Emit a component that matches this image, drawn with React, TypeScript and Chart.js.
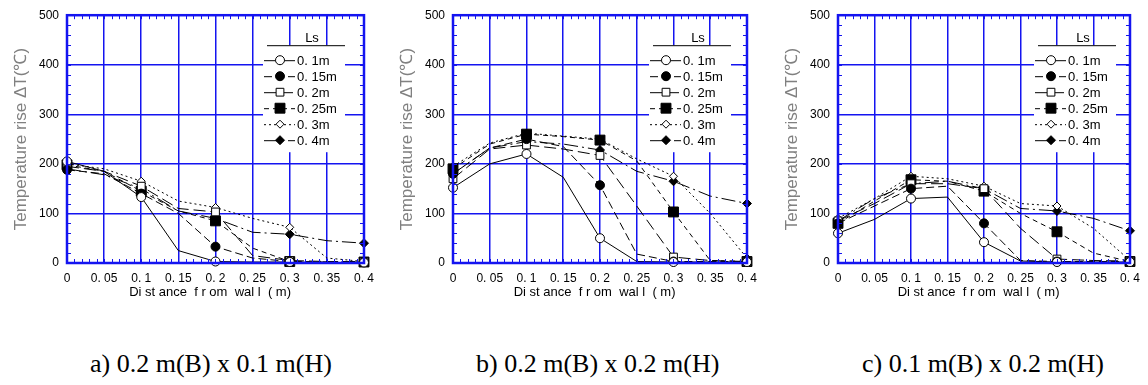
import React, { useEffect, useRef } from "react";
import { Chart, registerables } from "chart.js";

Chart.register(...registerables);

// ---------- data ----------
const xPositions = [0, 0.05, 0.1, 0.15, 0.2, 0.25, 0.3, 0.35, 0.4];
const markerX = [0, 0.1, 0.2, 0.3, 0.4];
const xTickLabels = ["0", "0. 05", "0. 1", "0. 15", "0. 2", "0. 25", "0. 3", "0. 35", "0. 4"];
const yTickValues = [0, 100, 200, 300, 400, 500];
const seriesLabels = ["0. 1m", "0. 15m", "0. 2m", "0. 25m", "0. 3m", "0. 4m"];
const legendTitle = "Ls";
const xTitle = "Di st ance  f r om  wal l  ( m)   ";
const yTitle = "Temperature rise ΔT(℃)";
const captions = ["a) 0.2 m(B) x 0.1 m(H)", "b) 0.2 m(B) x 0.2 m(H)", "c) 0.1 m(B) x 0.2 m(H)"];

// panel a) 0.2 m(B) x 0.1 m(H)
const panelA_L010 = [205, 185, 133, 25, 3, 2, 2, 1, 1];
const panelA_L015 = [188, 180, 140, 100, 33, 10, 3, 2, 2];
const panelA_L020 = [195, 185, 155, 110, 103, 15, 5, 3, 3];
const panelA_L025 = [198, 185, 145, 105, 85, 30, 3, 2, 2];
const panelA_L030 = [200, 190, 165, 125, 112, 90, 72, 10, 3];
const panelA_L040 = [190, 178, 150, 105, 90, 62, 58, 45, 40];

// panel b) 0.2 m(B) x 0.2 m(H)
const panelB_L010 = [152, 200, 220, 173, 50, 3, 2, 2, 2];
const panelB_L015 = [180, 232, 250, 235, 157, 18, 3, 3, 3];
const panelB_L020 = [170, 230, 238, 230, 217, 115, 12, 5, 3];
const panelB_L025 = [190, 240, 260, 255, 248, 206, 103, 5, 3];
const panelB_L030 = [195, 242, 262, 256, 250, 210, 175, 100, 10];
const panelB_L040 = [180, 232, 245, 240, 228, 185, 165, 135, 120];

// panel c) 0.1 m(B) x 0.2 m(H)
const panelC_L010 = [60, 88, 130, 133, 42, 4, 2, 2, 2];
const panelC_L015 = [80, 115, 150, 155, 80, 5, 3, 3, 3];
const panelC_L020 = [85, 120, 160, 160, 150, 70, 8, 5, 4];
const panelC_L025 = [80, 125, 168, 165, 145, 100, 63, 20, 3];
const panelC_L030 = [90, 130, 175, 170, 155, 120, 115, 70, 5];
const panelC_L040 = [85, 130, 160, 165, 150, 110, 105, 90, 65];

const panelA = [panelA_L010, panelA_L015, panelA_L020, panelA_L025, panelA_L030, panelA_L040];
const panelB = [panelB_L010, panelB_L015, panelB_L020, panelB_L025, panelB_L030, panelB_L040];
const panelC = [panelC_L010, panelC_L015, panelC_L020, panelC_L025, panelC_L030, panelC_L040];

// ---------- styles ----------
const BLUE = "#1414f0";
const SANS = "'Liberation Sans', Arial, sans-serif";
const SERIF = "'Liberation Serif', 'Times New Roman', serif";

type SeriesStyle = { dash: number[]; point: string; r: number; filled: boolean };
const seriesStyles: SeriesStyle[] = [
  { dash: [], point: "circle", r: 4.5, filled: false },
  { dash: [8, 4], point: "circle", r: 4.5, filled: true },
  { dash: [12, 5], point: "rect", r: 5.5, filled: false },
  { dash: [5, 4], point: "rect", r: 7, filled: true },
  { dash: [2, 3], point: "rectRot", r: 4, filled: false },
  { dash: [14, 4, 2, 4], point: "rectRot", r: 4.5, filled: true },
];

function drawMarker(ctx: CanvasRenderingContext2D, s: SeriesStyle, x: number, y: number) {
  ctx.save();
  ctx.setLineDash([]);
  ctx.lineWidth = 1;
  ctx.strokeStyle = "#000";
  ctx.fillStyle = s.filled ? "#000" : "#fff";
  ctx.beginPath();
  if (s.point === "circle") {
    ctx.arc(x, y, s.r, 0, Math.PI * 2);
  } else if (s.point === "rect") {
    const h = s.r * Math.SQRT1_2;
    ctx.rect(x - h, y - h, 2 * h, 2 * h);
  } else {
    ctx.moveTo(x - s.r, y);
    ctx.lineTo(x, y - s.r);
    ctx.lineTo(x + s.r, y);
    ctx.lineTo(x, y + s.r);
    ctx.closePath();
  }
  ctx.fill();
  ctx.stroke();
  ctx.restore();
}

const framePlugin = {
  id: "framePlugin",
  beforeDatasetsDraw(chart: any) {
    const { ctx, chartArea: a } = chart;
    ctx.save();
    ctx.fillStyle = "#fff";
    ctx.fillRect(a.left + 196, a.top + 30, 82, 107);
    ctx.restore();
  },
  afterDatasetsDraw(chart: any) {
    const { ctx, chartArea: a } = chart;
    ctx.save();
    ctx.strokeStyle = "#000";
    ctx.lineWidth = 1;
    ctx.beginPath();
    ctx.moveTo(a.left + 200, a.top + 30.5);
    ctx.lineTo(a.left + 278, a.top + 30.5);
    ctx.stroke();
    ctx.fillStyle = "#000";
    ctx.font = `13px ${SANS}`;
    ctx.textAlign = "center";
    ctx.textBaseline = "middle";
    ctx.fillText(legendTitle, a.left + 245, a.top + 23);
    ctx.textAlign = "left";
    seriesLabels.forEach((label, i) => {
      const y = a.top + 45 + i * 16;
      const s = seriesStyles[i];
      ctx.save();
      ctx.setLineDash(s.dash);
      ctx.strokeStyle = "#000";
      ctx.lineWidth = 1;
      ctx.beginPath();
      ctx.moveTo(a.left + 197, y + 0.5);
      ctx.lineTo(a.left + 228, y + 0.5);
      ctx.stroke();
      ctx.restore();
      drawMarker(ctx, s, a.left + 213, y);
      ctx.fillStyle = "#000";
      ctx.fillText(label, a.left + 230, y + 1);
    });
    ctx.restore();
  },
  afterDraw(chart: any) {
    const { ctx, chartArea: a, scales } = chart;
    const xs = scales.x;
    const ys = scales.y;
    ctx.save();
    ctx.strokeStyle = BLUE;
    ctx.lineWidth = 1;
    const tl = 4;
    ctx.beginPath();
    for (let i = 1; i < 40; i++) {
      const px = Math.round(xs.getPixelForValue(i * 0.01)) + 0.5;
      ctx.moveTo(px, a.bottom);
      ctx.lineTo(px, a.bottom - tl);
      ctx.moveTo(px, a.top);
      ctx.lineTo(px, a.top + tl);
    }
    for (let v = 20; v < 500; v += 20) {
      const py = Math.round(ys.getPixelForValue(v)) + 0.5;
      ctx.moveTo(a.left, py);
      ctx.lineTo(a.left + tl, py);
      ctx.moveTo(a.right, py);
      ctx.lineTo(a.right - tl, py);
    }
    ctx.stroke();
    ctx.lineWidth = 2.5;
    ctx.strokeRect(a.left, a.top, a.right - a.left, a.bottom - a.top);
    ctx.restore();
  },
};

type PanelProps = { left: number; width: number; padTop: number; padRight: number; series: number[][] };

function Panel({ left, width, padTop, padRight, series }: PanelProps) {
  const ref = useRef<HTMLCanvasElement | null>(null);
  useEffect(() => {
    if (!ref.current) return;
    const datasets = series.map((vals, i) => {
      const s = seriesStyles[i];
      return {
        label: seriesLabels[i],
        data: xPositions.map((x, j) => ({ x, y: vals[j] })),
        borderColor: "#000",
        borderWidth: 1,
        borderDash: s.dash,
        backgroundColor: s.filled ? "#000" : "#fff",
        pointStyle: s.point,
        pointRadius: xPositions.map((x) => (markerX.includes(x) ? s.r : 0)),
        pointBorderColor: "#000",
        pointBackgroundColor: s.filled ? "#000" : "#fff",
        pointBorderWidth: 1,
        tension: 0,
        fill: false,
        clip: false,
      };
    });
    const chart = new Chart(ref.current, {
      type: "line",
      data: { datasets },
      plugins: [framePlugin],
      options: {
        responsive: false,
        animation: false,
        events: [],
        layout: { padding: { top: padTop, right: padRight, left: 0, bottom: 0 } },
        plugins: { legend: { display: false }, tooltip: { enabled: false } },
        scales: {
          x: {
            type: "linear",
            min: 0,
            max: 0.4,
            afterBuildTicks: (s: any) => {
              s.ticks = xPositions.map((v) => ({ value: v }));
            },
            afterFit: (s: any) => {
              s.height = 37;
            },
            ticks: {
              callback: (_v: any, i: number) => xTickLabels[i],
              color: "#000",
              font: { family: SANS, size: 12 },
              padding: 8,
              maxRotation: 0,
              minRotation: 0,
              autoSkip: false,
            },
            grid: { color: BLUE, lineWidth: 1.5, drawTicks: false },
            border: { display: false },
            title: {
              display: true,
              text: xTitle,
              color: "#000",
              font: { family: SANS, size: 13 },
              padding: { top: 0, bottom: 0 },
            },
          },
          y: {
            type: "linear",
            min: 0,
            max: 500,
            afterBuildTicks: (s: any) => {
              s.ticks = yTickValues.map((v) => ({ value: v }));
            },
            afterFit: (s: any) => {
              s.width = 67;
            },
            ticks: {
              color: "#000",
              font: { family: SANS, size: 12 },
              padding: 8,
            },
            grid: { color: BLUE, lineWidth: 1.5, drawTicks: false },
            border: { display: false },
            title: {
              display: true,
              text: yTitle,
              color: "#808080",
              font: { family: SANS, size: 17 },
              padding: { top: 11, bottom: 0 },
            },
          },
        },
      } as any,
    } as any);
    return () => chart.destroy();
  }, []);
  return (
    <div style={{ position: "absolute", left, top: 0, width, height: 300 }}>
      <canvas ref={ref} width={width} height={300} style={{ width, height: 300, display: "block" }} />
    </div>
  );
}

const captionLefts = [90, 476, 862];

export default function App() {
  return (
    <div style={{ position: "absolute", left: 0, top: 0, width: 1148, height: 385, background: "#fff", overflow: "hidden" }}>
      <Panel left={0} width={382} padTop={13} padRight={15} series={panelA} />
      <Panel left={386} width={379} padTop={15} padRight={15} series={panelB} />
      <Panel left={771} width={377} padTop={13} padRight={11} series={panelC} />
      {captions.map((c, i) => (
        <div
          key={c}
          style={{
            position: "absolute",
            left: captionLefts[i],
            top: 351,
            fontFamily: SERIF,
            fontSize: 26,
            lineHeight: "26px",
            whiteSpace: "nowrap",
            color: "#000",
          }}
        >
          {c}
        </div>
      ))}
    </div>
  );
}
